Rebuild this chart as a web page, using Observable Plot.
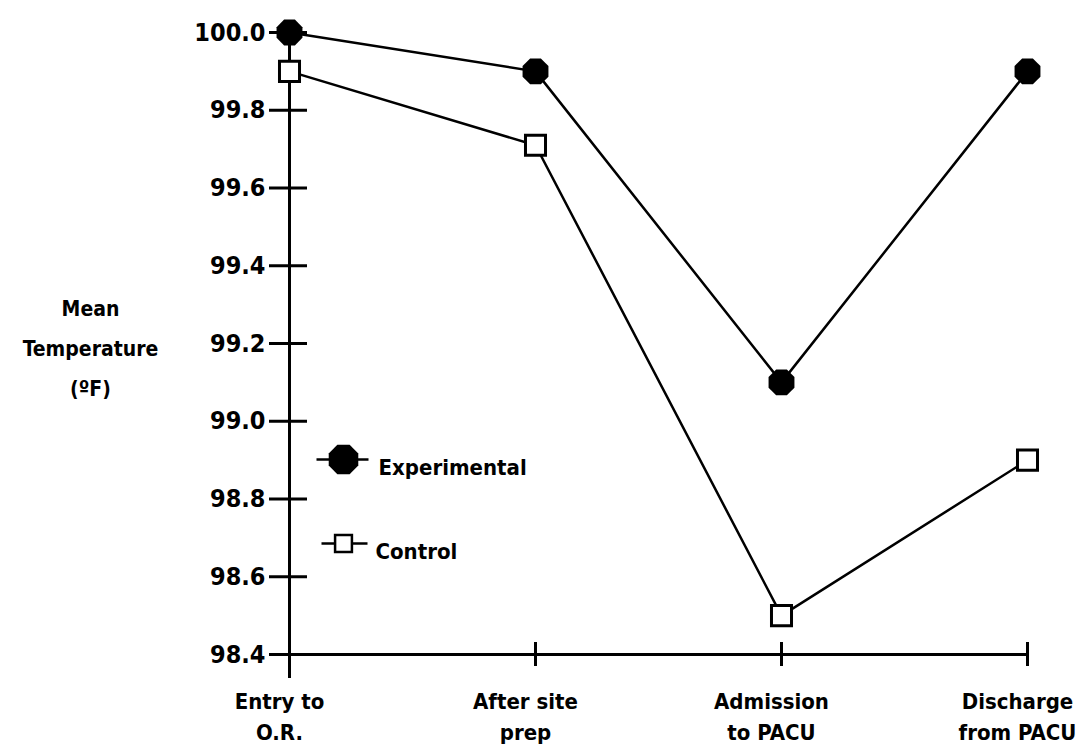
<!DOCTYPE html>
<html>
<head>
<meta charset="utf-8">
<script src="https://cdn.jsdelivr.net/npm/d3@7"></script>
<script src="https://cdn.jsdelivr.net/npm/@observablehq/plot@0.6"></script>
<style>
  html, body { margin: 0; padding: 0; background: #fff; }
  #chart { width: 1091px; height: 746px; }
</style>
</head>
<body>
<div id="chart"></div>
<script>
// ---- data ----
const categories = ["Entry to O.R.", "After site prep", "Admission to PACU", "Discharge from PACU"];
const categoryLabels = ["Entry to\nO.R.", "After site\nprep", "Admission\nto PACU", "Discharge\nfrom PACU"];
const seriesNames = ["Experimental", "Control"];
const experimental = [100.0, 99.9, 99.1, 99.9];
const control = [99.9, 99.71, 98.5, 98.9];
const yTicks = [98.4, 98.6, 98.8, 99.0, 99.2, 99.4, 99.6, 99.8, 100.0];
const yLabel = "Mean\nTemperature\n(ºF)";

const FONT = "'DejaVu Sans Condensed', 'DejaVu Sans', sans-serif";

const expRows = categories.map((c, i) => ({cat: c, series: seriesNames[0], value: experimental[i]}));
const ctlRows = categories.map((c, i) => ({cat: c, series: seriesNames[1], value: control[i]}));
const rows = expRows.concat(ctlRows);
const axisRow = [{cat: categories[0], lo: yTicks[0], hi: yTicks[yTicks.length - 1]}];

// custom symbols
const octagon = {
  draw(ctx, size) {
    const r = Math.sqrt(size / Math.PI);
    for (let k = 0; k < 8; k++) {
      const a = Math.PI / 8 + k * Math.PI / 4;
      const px = r * Math.cos(a), py = r * Math.sin(a);
      if (k === 0) ctx.moveTo(px, py); else ctx.lineTo(px, py);
    }
    ctx.closePath();
  }
};
const hline = (L) => ({
  draw(ctx) { ctx.moveTo(-L, 0); ctx.lineTo(L, 0); }
});

const chart = Plot.plot({
  width: 1091,
  height: 746,
  marginLeft: 288,
  marginRight: 64,
  marginTop: 32,
  marginBottom: 92,
  x: {type: "point", domain: categories, padding: 0, axis: null, label: null},
  y: {domain: [yTicks[0], yTicks[yTicks.length - 1]], axis: null, label: null},
  style: {fontFamily: FONT, fontWeight: "bold", background: "white", color: "black", fontStretch: "condensed"},
  marks: [
    // x axis line
    Plot.ruleY([yTicks[0]], {stroke: "black", strokeWidth: 3}),
    // y axis line (extends below the x axis)
    Plot.ruleX(axisRow, {x: "cat", y1: "hi", y2: "lo", stroke: "black", strokeWidth: 3, insetBottom: -24}),
    // x ticks (crossing the axis)
    Plot.axisX({tickSize: 24, dy: -12, tickFormat: () => "", label: null, stroke: "black", strokeWidth: 3}),
    // y ticks (crossing the axis)
    Plot.axisY({ticks: yTicks, tickSize: 38, dx: 19, tickFormat: () => "", label: null, stroke: "black", strokeWidth: 3}),
    // y tick labels
    Plot.axisY({ticks: yTicks, tickSize: 0, tickPadding: 23, tickFormat: d => d.toFixed(1), label: null,
      fontSize: 25, fontWeight: "bold", fontFamily: FONT, fill: "black"}),
    // x category labels
    Plot.text(categories, {x: d => d, text: (d, i) => categoryLabels[i], frameAnchor: "bottom",
      dy: 60, dx: -10, lineAnchor: "middle", lineHeight: 1.4, fontSize: 22, fontWeight: "bold", fontFamily: FONT, fill: "black"}),
    // y axis title
    Plot.text([yLabel], {x: null, y: null, text: d => d, frameAnchor: "top-left", dx: -198, dy: 311,
      textAnchor: "middle", lineAnchor: "middle", lineHeight: 1.9, fontSize: 21, fontWeight: "bold", fontFamily: FONT, fill: "black"}),
    // series lines
    Plot.line(rows, {x: "cat", y: "value", z: "series", stroke: "black", strokeWidth: 2.5}),
    // markers
    Plot.dot(expRows, {x: "cat", y: "value", r: 14, symbol: octagon, fill: "black", stroke: "none"}),
    Plot.dot(ctlRows, {x: "cat", y: "value", r: 11.3, symbol: "square", fill: "white", stroke: "black", strokeWidth: 3}),
    // legend
    Plot.dot([seriesNames[0]], {x: null, y: null, frameAnchor: "top-left", dx: 54, dy: 427, symbol: hline(26), fill: "none", stroke: "black", strokeWidth: 2.5}),
    Plot.dot([seriesNames[0]], {x: null, y: null, frameAnchor: "top-left", dx: 55, dy: 427, r: 16, symbol: octagon, fill: "black", stroke: "none"}),
    Plot.text([seriesNames[0]], {x: null, y: null, text: d => d, frameAnchor: "top-left", dx: 90, dy: 427,
      textAnchor: "start", fontSize: 22, fontWeight: "bold", fontFamily: FONT, fill: "black"}),
    Plot.dot([seriesNames[1]], {x: null, y: null, frameAnchor: "top-left", dx: 56, dy: 511, symbol: hline(23), fill: "none", stroke: "black", strokeWidth: 2.5}),
    Plot.dot([seriesNames[1]], {x: null, y: null, frameAnchor: "top-left", dx: 55, dy: 511, r: 9.5, symbol: "square", fill: "white", stroke: "black", strokeWidth: 2.5}),
    Plot.text([seriesNames[1]], {x: null, y: null, text: d => d, frameAnchor: "top-left", dx: 87, dy: 511,
      textAnchor: "start", fontSize: 22, fontWeight: "bold", fontFamily: FONT, fill: "black"})
  ]
});
document.getElementById("chart").appendChild(chart);
</script>
</body>
</html>
